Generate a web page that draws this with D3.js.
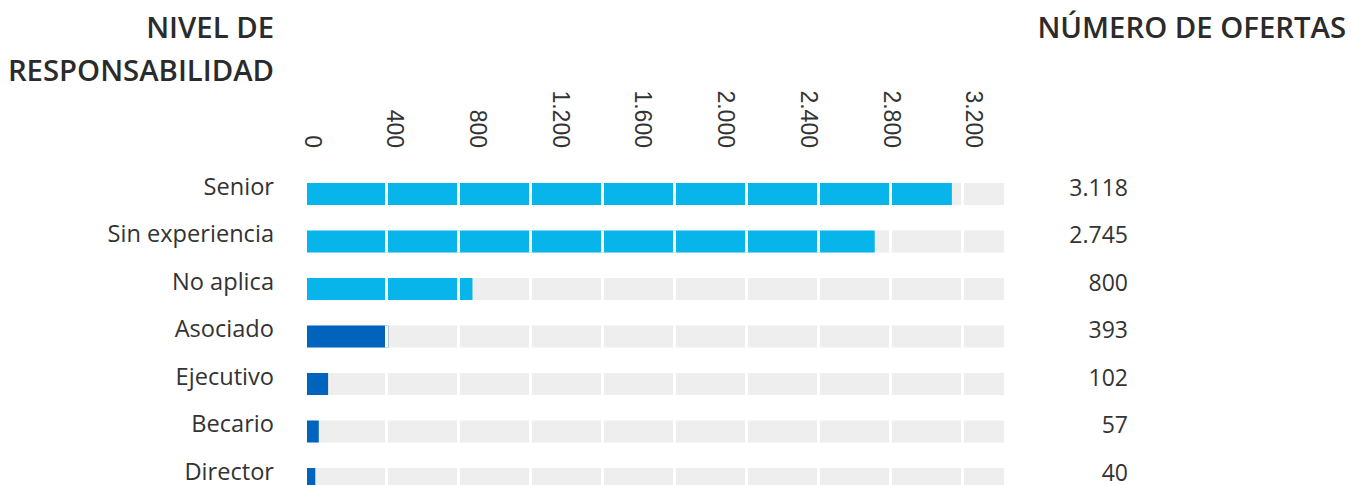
<!DOCTYPE html>
<html>
<head>
<meta charset="utf-8">
<script src="https://cdn.jsdelivr.net/npm/d3@7"></script>
<style>
  body { margin: 0; background: #fff; }
  .cat { font-family: "Open Sans", sans-serif; font-size: 23.6px; fill: #333; }
  .val { font-family: "Open Sans", sans-serif; font-size: 23px; fill: #333; }
  .head { font-family: "Open Sans", sans-serif; font-size: 29.3px; font-weight: 600; fill: #2b2b2b; }
  .axis text { font-family: "Liberation Sans", Arial, sans-serif; font-size: 23px; fill: #333; }
</style>
</head>
<body>
<svg id="chart" width="1351" height="485"></svg>
<script>
// ---- data ----
const categories = [ "Senior", "Sin experiencia", "No aplica", "Asociado", "Ejecutivo", "Becario", "Director" ];
const offers = [ 3118, 2745, 800, 393, 102, 57, 40 ];
const highlighted = [ true, true, true, false, false, false, false ]; // light blue rows
const tickValues = [ 0, 400, 800, 1200, 1600, 2000, 2400, 2800, 3200 ];
const trackMax = 3370; // grey track length in offers

const esLocale = d3.formatLocale( { decimal: ",", thousands: ".", grouping: [ 3 ], currency: [ "", "€" ] } );
const fmt = esLocale.format( ",d" );

const rows = categories.map( ( c, i ) => ( { cat: c, value: offers[ i ], hi: highlighted[ i ] } ) );

const svg = d3.select( "#chart" );

const xScale = d3.scaleLinear()
  .domain( [ 0, trackMax ] )
  .range( [ 307, 1004 ] );

const yScale = d3.scaleBand()
  .domain( categories )
  .range( [ 183, 490 ] )
  .paddingInner( 0.5368 )
  .paddingOuter( 0 );

const barH = yScale.bandwidth();

// headers
svg.append( "text" ).attr( "class", "head" ).attr( "text-anchor", "end" )
  .attr( "x", 274 ).attr( "y", 38 ).text( "NIVEL DE" );
svg.append( "text" ).attr( "class", "head" ).attr( "text-anchor", "end" )
  .attr( "x", 274 ).attr( "y", 81 ).text( "RESPONSABILIDAD" );
svg.append( "text" ).attr( "class", "head" ).attr( "text-anchor", "end" )
  .attr( "x", 1346 ).attr( "y", 38 ).text( "NÚMERO DE OFERTAS" );

// rotated top axis
const topAxis = d3.axisTop( xScale )
  .tickValues( tickValues )
  .tickSize( 0 )
  .tickFormat( fmt );

const axisG = svg.append( "g" )
  .attr( "class", "axis" )
  .attr( "transform", "translate(0,148)" )
  .call( topAxis );

axisG.select( ".domain" ).remove();
axisG.selectAll( "text" )
  .attr( "transform", "rotate(90)" )
  .attr( "x", 0 )
  .attr( "y", 3 )
  .attr( "dy", "0" )
  .attr( "text-anchor", "end" );

// rows
const rowG = svg.selectAll( ".row" )
  .data( rows )
  .enter()
  .append( "g" )
  .attr( "class", "row" );

rowG.append( "rect" ) // grey track
  .attr( "x", xScale( 0 ) )
  .attr( "y", d => yScale( d.cat ) )
  .attr( "width", xScale( trackMax ) - xScale( 0 ) )
  .attr( "height", barH )
  .attr( "fill", "#eeeeee" );

rowG.append( "rect" ) // value bar
  .attr( "x", xScale( 0 ) )
  .attr( "y", d => yScale( d.cat ) )
  .attr( "width", d => xScale( d.value ) - xScale( 0 ) )
  .attr( "height", barH )
  .attr( "fill", d => d.hi ? "#08b5ea" : "#0064bf" );

// white separators cutting the track into blocks
const gaps = d3.range( 385, xScale( trackMax ), 72 );
rowG.each( function ( d ) {
  d3.select( this ).selectAll( ".gap" )
    .data( gaps )
    .enter()
    .append( "rect" )
    .attr( "class", "gap" )
    .attr( "x", g => g )
    .attr( "y", yScale( d.cat ) )
    .attr( "width", 3 )
    .attr( "height", barH )
    .attr( "fill", "#fff" );
} );

rowG.append( "text" ) // category labels
  .attr( "class", "cat" )
  .attr( "text-anchor", "end" )
  .attr( "x", 274 )
  .attr( "y", d => yScale( d.cat ) + 12 )
  .text( d => d.cat );

rowG.append( "text" ) // values
  .attr( "class", "val" )
  .attr( "text-anchor", "end" )
  .attr( "x", 1128 )
  .attr( "y", d => yScale( d.cat ) + 13 )
  .text( d => fmt( d.value ) );
</script>
</body>
</html>
